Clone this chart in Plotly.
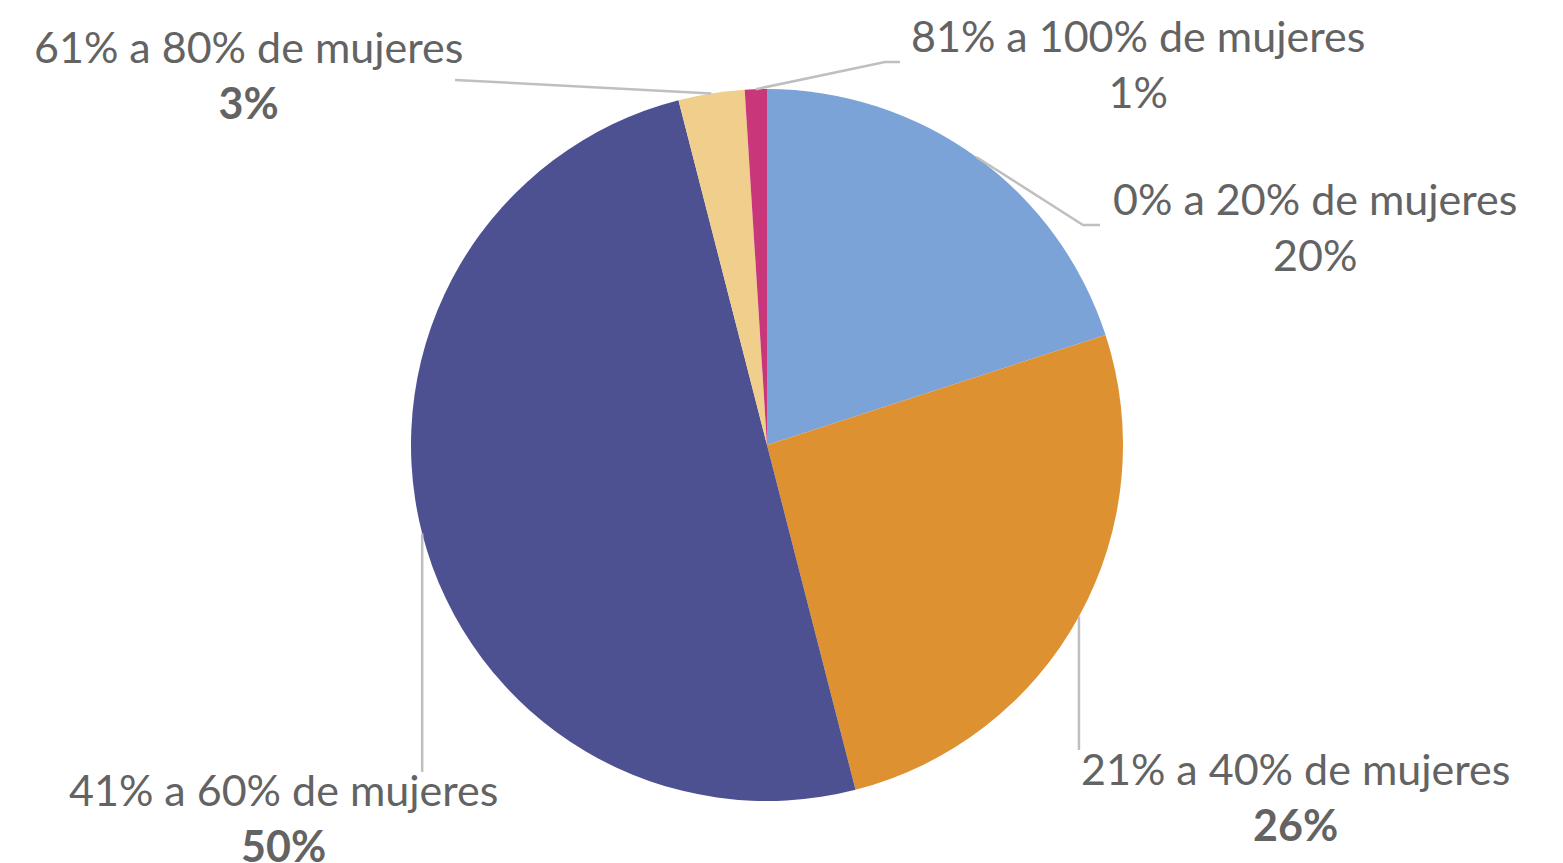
import math
import plotly.graph_objects as go

labels = ["0% a 20% de mujeres", "21% a 40% de mujeres", "41% a 60% de mujeres",
          "61% a 80% de mujeres", "81% a 100% de mujeres"]
values = [20, 26, 50, 3, 1]
pct_text = ["20%", "26%", "50%", "3%", "1%"]
bold_pct = [False, True, True, True, False]
colors = ["#7BA3D7", "#DE9130", "#4D5191", "#F0CE8C", "#C8377A"]

# page has an 8px body margin, so the figure is drawn a bit smaller
OFF = 8
W, H = 1563 - OFF, 863 - OFF
cx, cy, R = 767, 445, 356

# label block centres and leader-line routes (page pixels)
label_pos = [(1315, 226), (1295, 796), (283, 817), (249, 75), (1138, 63)]
leader_route = [
    [(1083, 225), (1100, 225)],
    [(None, 750)],
    [(None, 772)],
    [(455, 80)],
    [(885, 62), (900, 62)],
]


def px(x):
    return (x - OFF) / W


def py(y):
    return 1 - (y - OFF) / H


fig = go.Figure(go.Pie(
    labels=labels, values=values, sort=False, direction="clockwise", rotation=0,
    marker=dict(colors=colors, line=dict(width=0)),
    textinfo="none", hoverinfo="label+percent", showlegend=False,
    domain=dict(x=[px(cx - R), px(cx + R)], y=[py(cy + R), py(cy - R)]),
))

total = sum(values)
cum = 0
shapes = []
annotations = []
for i, v in enumerate(values):
    mid = (cum + v / 2) / total
    cum += v
    ang = mid * 2 * math.pi
    x0 = cx + R * math.sin(ang)
    y0 = cy - R * math.cos(ang)
    pts = [(x0, y0)]
    for (x, y) in leader_route[i]:
        pts.append((x0 if x is None else x, y))
    path = "M " + " L ".join(f"{px(a):.5f},{py(b):.5f}" for a, b in pts)
    shapes.append(dict(type="path", xref="paper", yref="paper", path=path,
                       line=dict(color="#BFBFBF", width=2.5)))
    p = f"<b>{pct_text[i]}</b>" if bold_pct[i] else pct_text[i]
    lx, ly = label_pos[i]
    annotations.append(dict(x=px(lx), y=py(ly), xref="paper", yref="paper",
                            text=f"{labels[i]}<br>{p}", showarrow=False,
                            xanchor="center", yanchor="middle", align="center",
                            font=dict(family="Lato", size=43, color="#636363")))

fig.update_layout(
    width=W, height=H, margin=dict(l=0, r=0, t=0, b=0),
    paper_bgcolor="white", plot_bgcolor="white",
    shapes=shapes, annotations=annotations,
)

fig.write_html("out.html")
